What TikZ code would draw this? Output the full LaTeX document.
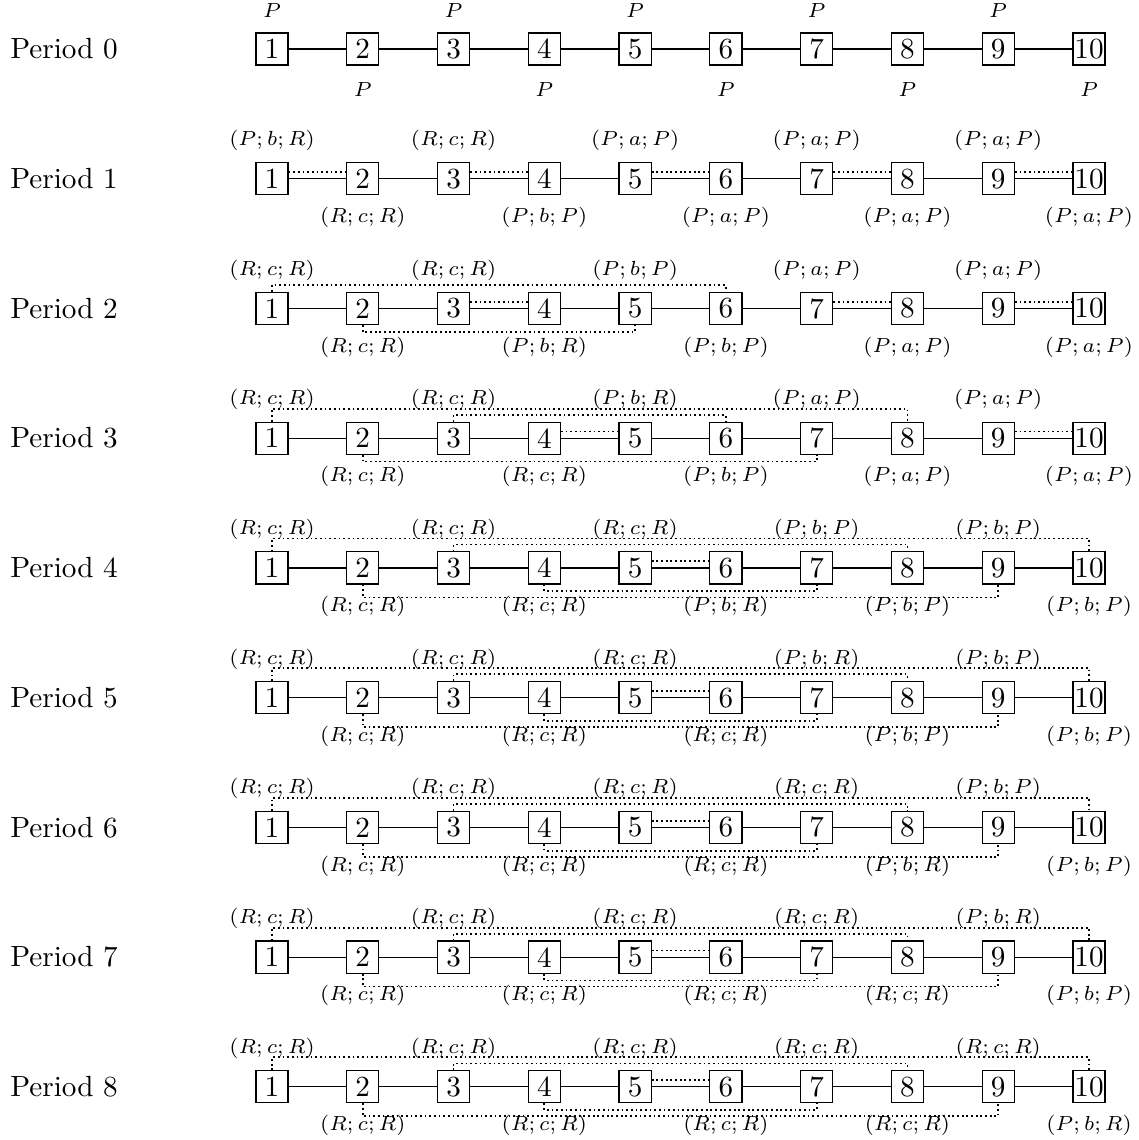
\documentclass[tikz,border=0pt]{standalone}
\usetikzlibrary{positioning}

\newcommand{\tri}[3]{$(#1;#2;#3)$}

\begin{document}
\begin{tikzpicture}[
    cell/.style={draw, inner sep=0.5pt, minimum width=11pt, minimum height=11pt},
    rowname/.style={anchor=west},
    tag/.style={font=\scriptsize, inner sep=0pt},
    link/.style={line width=0.4pt},
    match/.style={line width=0.6pt, densely dotted}
]
\useasboundingbox (-3.275,0.590) rectangle (10.427,-13.136);

\foreach \k in {0,...,8} {
    \node[rowname] (period\k) at (-3.275,-1.562*\k) {Period \k};
    \foreach \i in {1,...,10}
        \node[cell] (b\k-\i) at (1.093*\i-1.093,-1.562*\k) {\i};
    \foreach \i [count=\j from 2] in {1,...,9}
        \draw[link] (b\k-\i) -- (b\k-\j);
}

\foreach \i in {1,3,5,7,9}
    \node[tag, above=4.8pt of b0-\i] (top0-\i) {$P$};
\foreach \i in {2,4,6,8,10}
    \node[tag, below=5.5pt of b0-\i] (bot0-\i) {$P$};

\foreach \k/\i/\t in {1/1/PbR,1/3/RcR,1/5/PaP,1/7/PaP,1/9/PaP,
                      2/1/RcR,2/3/RcR,2/5/PbP,2/7/PaP,2/9/PaP,
                      3/1/RcR,3/3/RcR,3/5/PbR,3/7/PaP,3/9/PaP,
                      4/1/RcR,4/3/RcR,4/5/RcR,4/7/PbP,4/9/PbP,
                      5/1/RcR,5/3/RcR,5/5/RcR,5/7/PbR,5/9/PbP,
                      6/1/RcR,6/3/RcR,6/5/RcR,6/7/RcR,6/9/PbP,
                      7/1/RcR,7/3/RcR,7/5/RcR,7/7/RcR,7/9/PbR,
                      8/1/RcR,8/3/RcR,8/5/RcR,8/7/RcR,8/9/RcR}
    \node[tag, above=3.8pt of b\k-\i] (top\k-\i) {\expandafter\tri\t};

\foreach \k/\i/\t in {1/2/RcR,1/4/PbP,1/6/PaP,1/8/PaP,1/10/PaP,
                      2/2/RcR,2/4/PbR,2/6/PbP,2/8/PaP,2/10/PaP,
                      3/2/RcR,3/4/RcR,3/6/PbP,3/8/PaP,3/10/PaP,
                      4/2/RcR,4/4/RcR,4/6/PbR,4/8/PbP,4/10/PbP,
                      5/2/RcR,5/4/RcR,5/6/RcR,5/8/PbP,5/10/PbP,
                      6/2/RcR,6/4/RcR,6/6/RcR,6/8/PbR,6/10/PbP,
                      7/2/RcR,7/4/RcR,7/6/RcR,7/8/RcR,7/10/PbP,
                      8/2/RcR,8/4/RcR,8/6/RcR,8/8/RcR,8/10/PbR}
    \node[tag, below=3.8pt of b\k-\i] (bot\k-\i) {\expandafter\tri\t};

\foreach \k/\i/\j in {1/1/2,1/3/4,1/5/6,1/7/8,1/9/10,
                      2/3/4,2/7/8,2/9/10,3/4/5,3/9/10,
                      4/5/6,5/5/6,6/5/6,7/5/6,8/5/6}
    \draw[match] ([yshift=2.3pt]b\k-\i.east) -- ([yshift=2.3pt]b\k-\j.west);

\foreach \k/\i/\j/\h in {2/1/6/2.3pt,3/1/8/4.4pt,3/3/6/2.3pt}
    \draw[match] (b\k-\i.north) -- ++(0,\h) -| (b\k-\j.north);
\foreach \k/\i/\j/\h in {2/2/5/2.3pt,3/2/7/2.3pt}
    \draw[match] (b\k-\i.south) -- ++(0,-\h) -| (b\k-\j.south);

\foreach \k in {4,...,8} {
    \draw[match] (b\k-1.north) -- ++(0,4.4pt) -| (b\k-10.north);
    \draw[match] (b\k-3.north) -- ++(0,2.3pt) -| (b\k-8.north);
    \draw[match] (b\k-4.south) -- ++(0,-2.3pt) -| (b\k-7.south);
    \draw[match] (b\k-2.south) -- ++(0,-4.4pt) -| (b\k-9.south);
}

\end{tikzpicture}
\end{document}
